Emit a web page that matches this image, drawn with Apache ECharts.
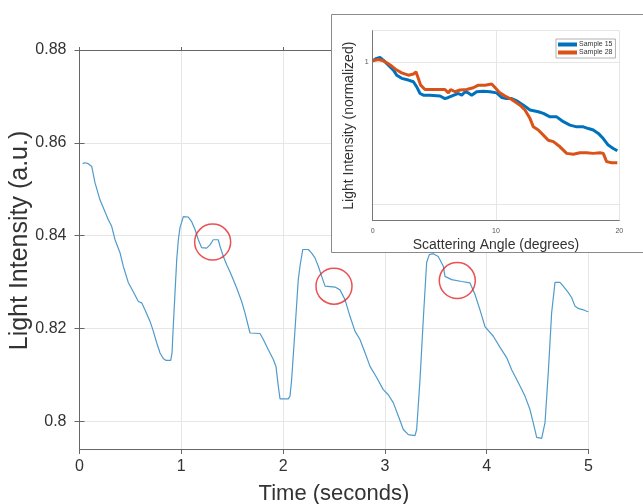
<!DOCTYPE html>
<html><head><meta charset="utf-8">
<script src="https://cdn.jsdelivr.net/npm/echarts@6/dist/echarts.min.js"></script>
<style>html,body{margin:0;padding:0;background:#fff}#c{width:643px;height:504px}</style>
</head><body><div id="c"></div>
<script>
// ---- main chart data ----
const timeSec = [0.031,0.054,0.086,0.120,0.152,0.201,0.234,0.283,0.316,0.349,
0.398,0.430,0.479,0.528,0.578,0.611,0.643,0.693,0.725,0.758,
0.791,0.823,0.850,0.896,0.909,0.921,0.938,0.955,0.971,0.987,
1.020,1.069,1.102,1.135,1.167,1.200,1.249,1.282,1.314,1.363,
1.380,1.413,1.446,1.478,1.511,1.544,1.593,1.626,1.675,1.773,
1.806,1.855,1.904,1.930,1.953,1.970,2.051,2.068,2.084,2.117,
2.149,2.166,2.193,2.248,2.281,2.313,2.346,2.379,2.412,2.510,
2.559,2.608,2.657,2.706,2.755,2.804,2.854,2.919,2.984,3.033,
3.082,3.132,3.181,3.230,3.296,3.312,3.345,3.377,3.410,3.436,
3.475,3.524,3.574,3.590,3.656,3.754,3.836,3.885,3.934,3.983,
4.065,4.131,4.196,4.245,4.311,4.376,4.425,4.457,4.491,4.540,
4.573,4.605,4.638,4.671,4.720,4.752,4.802,4.835,4.867,4.899,
4.949,4.982,4.998];
const intensity = [0.8555,0.8557,0.8555,0.8549,0.8514,0.8477,0.8460,0.8434,0.8420,0.8391,
0.8363,0.8334,0.8299,0.8279,0.8258,0.8255,0.8240,0.8215,0.8194,0.8169,
0.8147,0.8135,0.8131,0.8131,0.8147,0.8204,0.8276,0.8348,0.8391,0.8417,
0.8441,0.8440,0.8430,0.8413,0.8391,0.8374,0.8373,0.8380,0.8391,0.8391,
0.8377,0.8355,0.8337,0.8322,0.8305,0.8287,0.8258,0.8233,0.8190,0.8189,
0.8176,0.8154,0.8133,0.8118,0.8075,0.8048,0.8048,0.8054,0.8090,0.8197,
0.8305,0.8334,0.8370,0.8370,0.8362,0.8352,0.8334,0.8312,0.8291,0.8289,
0.8283,0.8262,0.8226,0.8194,0.8176,0.8148,0.8118,0.8094,0.8068,0.8057,
0.8040,0.8011,0.7982,0.7971,0.7969,0.7982,0.8090,0.8219,0.8342,0.8359,
0.8361,0.8355,0.8334,0.8312,0.8305,0.8301,0.8298,0.8273,0.8240,0.8204,
0.8183,0.8159,0.8137,0.8111,0.8083,0.8054,0.8025,0.7997,0.7965,0.7963,
0.7997,0.8105,0.8234,0.8299,0.8299,0.8291,0.8277,0.8266,0.8248,0.8243,
0.8240,0.8237,0.8236];
const markTime = [1.308, 2.5, 3.711];
const markIntensity = [0.8386, 0.8291, 0.8303];
const timeTicks = [0, 1, 2, 3, 4, 5];
const intensityTicks = [0.80, 0.82, 0.84, 0.86, 0.88];

// ---- inset data ----
const angle15 = [0,0.32,0.59,0.86,1.27,1.68,1.95,2.35,2.89,3.3,
3.57,3.84,4.11,4.65,5.46,5.86,6.14,6.54,6.95,7.22,
7.49,7.76,8.03,8.43,8.97,9.51,10.05,10.46,10.86,11.27,
11.68,12.22,12.76,13.43,13.84,14.38,14.92,15.46,16.0,16.54,
17.08,17.49,17.89,18.3,18.7,19.1,19.51,19.84];
const norm15 = [1.0035,1.012,1.015,1.006,0.988,0.971,0.953,0.942,0.936,0.93,
0.912,0.889,0.883,0.883,0.880,0.871,0.875,0.882,0.889,0.883,
0.895,0.891,0.883,0.895,0.897,0.895,0.891,0.875,0.871,0.871,
0.863,0.848,0.831,0.825,0.819,0.807,0.807,0.790,0.778,0.772,
0.772,0.766,0.761,0.749,0.731,0.708,0.696,0.688];
const angle28 = [0,0.46,0.86,1.14,1.54,1.95,2.35,2.89,3.3,3.51,
3.65,3.89,4.24,4.65,5.19,5.86,6.14,6.32,6.68,7.08,
7.62,8.16,8.57,9.11,9.65,9.92,10.32,10.73,11.14,11.54,
11.95,12.35,12.76,13.03,13.43,13.84,14.24,14.65,15.19,15.73,
16.27,16.81,17.35,17.89,18.43,18.7,18.97,19.38,19.84];
const norm28 = [1.0035,1.008,1.0035,0.9965,0.985,0.971,0.961,0.953,0.957,0.965,
0.959,0.918,0.903,0.903,0.903,0.903,0.891,0.903,0.895,0.901,
0.903,0.909,0.918,0.918,0.922,0.91,0.891,0.88,0.871,0.86,
0.848,0.831,0.801,0.772,0.761,0.743,0.725,0.720,0.702,0.679,
0.676,0.681,0.681,0.679,0.681,0.679,0.650,0.646,0.646];
const angleTicks = [0, 10, 20];
const normTickLabels = [1];
const seriesNames = ['Sample 15', 'Sample 28'];

const zip = (a, b) => a.map((v, i) => [v, b[i]]);
const FONT = 'Liberation Sans, Arial, Helvetica, sans-serif';
const near = (v, arr) => arr.some(t => Math.abs(t - v) < 1e-6);

const chart = echarts.init(document.getElementById('c'), null, {renderer: 'canvas'});
const axisGray = '#666';
const gridGray = '#e6e6e6';

chart.setOption({
  animation: false,
  backgroundColor: '#fff',
  textStyle: {fontFamily: FONT},
  grid: [
    {left: 79.5, right: 54.5, top: 50, bottom: 55, containLabel: false, outerBoundsMode: 'none'},
    {left: 372.7, right: 23.7, top: 30.7, bottom: 283.3, containLabel: false, outerBoundsMode: 'none', z: 60}
  ],
  graphic: [{
    type: 'rect', z: 50, silent: true,
    shape: {x: 331.5, y: 14.5, width: 400, height: 238},
    style: {fill: '#fff', stroke: '#8a8a8a', lineWidth: 1}
  }],
  legend: {
    data: seriesNames, orient: 'vertical', left: 556, top: 39, z: 70,
    backgroundColor: '#fff', borderColor: '#a0a0a0', borderWidth: 0.8,
    padding: [2, 3, 2, 2], itemGap: 1, itemWidth: 19, itemHeight: 4,
    icon: 'rect', textStyle: {fontSize: 7, color: '#333', padding: [0, 0, 0, -3]}
  },
  xAxis: [
    {gridIndex: 0, type: 'value', min: 0, max: 5, interval: 1, position: 'bottom',
     axisLine: {show: true, lineStyle: {color: axisGray, width: 1}},
     axisTick: {show: true, inside: false, length: 5, lineStyle: {color: axisGray}},
     axisLabel: {fontSize: 16, color: '#333', margin: 10,
       formatter: v => near(v, timeTicks) ? String(v) : ''},
     splitLine: {show: true, lineStyle: {color: gridGray, width: 1}},
     name: 'Time (seconds)', nameLocation: 'middle', nameGap: 34, nameMoveOverlap: false,
     nameTextStyle: {fontSize: 22, color: '#333'}},
    {gridIndex: 0, type: 'value', min: 0, max: 5, interval: 1, position: 'top',
     axisLine: {show: true, lineStyle: {color: axisGray, width: 1}},
     axisTick: {show: true, inside: false, length: 3, lineStyle: {color: axisGray}},
     axisLabel: {show: false}, splitLine: {show: false}},
    {gridIndex: 1, type: 'value', min: 0, max: 20, interval: 10, z: 60,
     axisLine: {show: true, lineStyle: {color: '#777', width: 1}},
     axisTick: {show: false},
     axisLabel: {fontSize: 7, color: '#555', margin: 7,
       formatter: v => near(v, angleTicks) ? String(v) : ''},
     splitLine: {show: true, lineStyle: {color: gridGray, width: 1}},
     name: 'Scattering Angle (degrees)', nameLocation: 'middle', nameGap: 17,
     nameTextStyle: {fontSize: 14, color: '#333'}}
  ],
  yAxis: [
    {gridIndex: 0, type: 'value', min: 0.794, max: 0.88, minInterval: 0.02, maxInterval: 0.02,
     position: 'left',
     axisLine: {show: true, lineStyle: {color: axisGray, width: 1}},
     axisTick: {show: true, inside: false, length: 5, lineStyle: {color: axisGray}},
     axisLabel: {fontSize: 16, color: '#333', margin: 13, showMinLabel: false,
       formatter: v => near(v, intensityTicks) ? String(+v.toFixed(2)) : ''},
     splitLine: {show: true, lineStyle: {color: gridGray, width: 1}},
     name: 'Light Intensity (a.u.)', nameLocation: 'middle', nameGap: 47, nameMoveOverlap: false,
     nameTextStyle: {fontSize: 25, color: '#333', padding: [0, 0, 0, 18]}},
    {gridIndex: 0, type: 'value', min: 0.794, max: 0.88, minInterval: 0.02, maxInterval: 0.02,
     position: 'right',
     axisLine: {show: true, lineStyle: {color: axisGray, width: 1}},
     axisTick: {show: true, inside: false, length: 5, lineStyle: {color: axisGray}},
     axisLabel: {show: false}, splitLine: {show: false}},
    {gridIndex: 1, type: 'value', min: 0.443, max: 1.109, minInterval: 0.5, maxInterval: 0.5, z: 60,
     axisLine: {show: true, lineStyle: {color: '#777', width: 1}},
     axisTick: {show: false},
     axisLabel: {fontSize: 7, color: '#555', margin: 4, showMinLabel: false, showMaxLabel: false,
       formatter: v => near(v, normTickLabels) ? String(v) : ''},
     splitLine: {show: true, lineStyle: {color: gridGray, width: 1}},
     name: 'Light Intensity (normalized)', nameLocation: 'middle', nameGap: 17,
     nameTextStyle: {fontSize: 14, color: '#333'}}
  ],
  series: [
    {type: 'line', xAxisIndex: 0, yAxisIndex: 0, data: zip(timeSec, intensity),
     showSymbol: false, symbol: 'none', z: 2,
     lineStyle: {color: '#4f9bcb', width: 1.2}},
    {type: 'scatter', xAxisIndex: 0, yAxisIndex: 0, data: zip(markTime, markIntensity),
     symbol: 'circle', symbolSize: 36, z: 3, silent: true,
     itemStyle: {color: 'rgba(0,0,0,0)', borderColor: '#e5252a', borderWidth: 1.5}},
    {name: seriesNames[0], type: 'line', xAxisIndex: 2, yAxisIndex: 2, data: zip(angle15, norm15),
     showSymbol: false, symbol: 'none', z: 61,
     itemStyle: {color: '#0072BD'}, lineStyle: {color: '#0072BD', width: 3}},
    {name: seriesNames[1], type: 'line', xAxisIndex: 2, yAxisIndex: 2, data: zip(angle28, norm28),
     showSymbol: false, symbol: 'none', z: 62,
     itemStyle: {color: '#D95319'}, lineStyle: {color: '#D95319', width: 3}}
  ]
});
</script>
</body></html>
